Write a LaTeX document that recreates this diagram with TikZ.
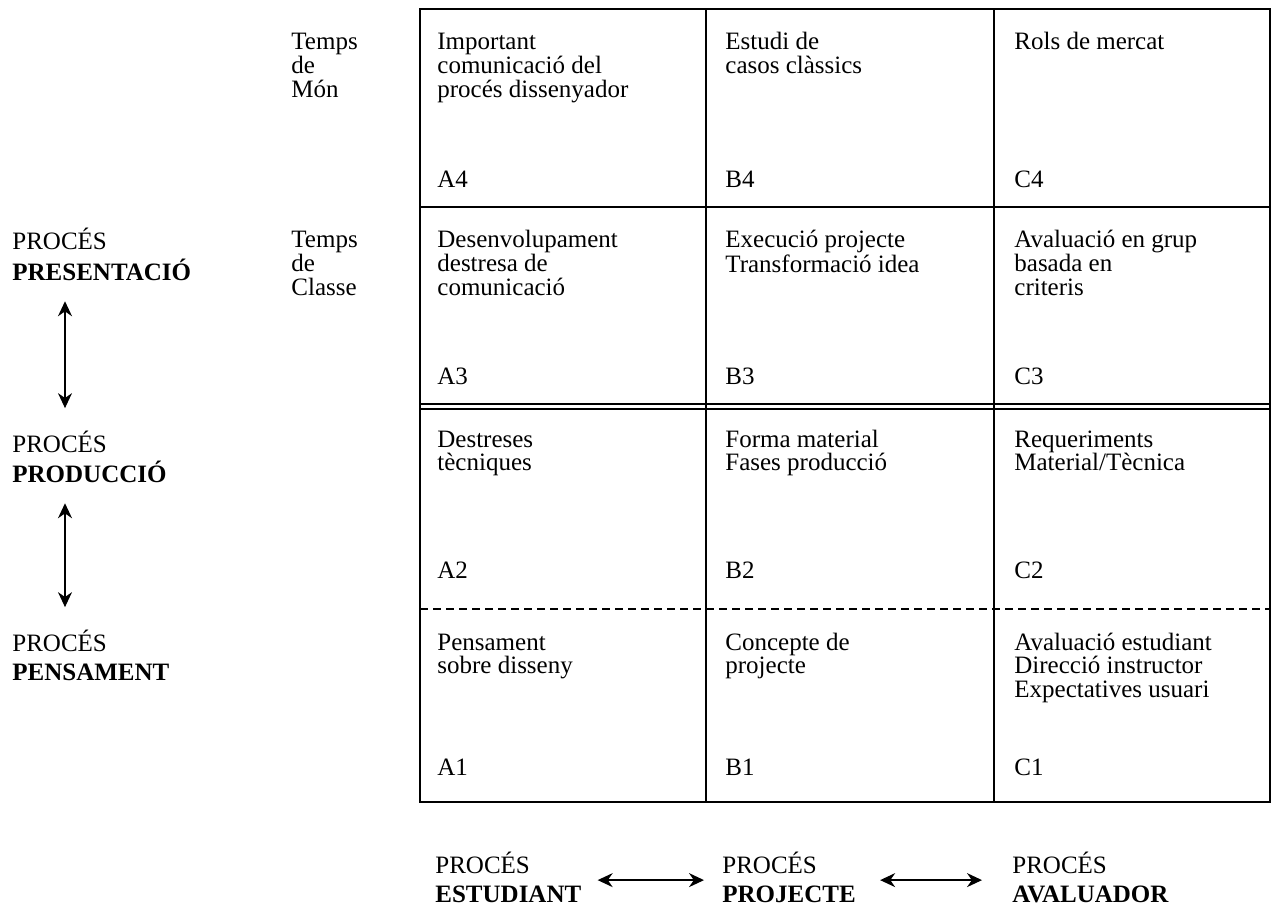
\documentclass[tikz,border=0pt]{standalone}
\usepackage{fontspec}
\setmainfont{Liberation Serif}
\usetikzlibrary{arrows.meta}

% linies d'un text, amb la base a la primera linia
\newcommand{\linies}[1]{\begin{tabular}[t]{@{}l@{}}#1\end{tabular}}

\begin{document}
\begin{tikzpicture}[x=0.5pt, y=-0.5pt,
    cella/.style={anchor=base west, inner sep=0pt, font=\fontsize{12.5}{11}\selectfont},
    proces/.style={anchor=base west, inner sep=0pt, font=\fontsize{12.5}{14.5}\selectfont},
    fletxa/.style={{Stealth[length=7.5pt,width=7pt]}-{Stealth[length=7.5pt,width=7pt]}, line width=0.7pt},
    vora/.style={line width=0.9pt}]
    \useasboundingbox (0,0) rectangle (1272,908);

    % 1. Reticle de la matriu
    \draw[vora] (420,9) rectangle (1270,802);
    \draw[vora] (706,9) -- (706,802);
    \draw[vora] (994,9) -- (994,802);
    \draw[vora] (420,207) -- (1270,207);
    % doble linia entre classe i produccio
    \draw[vora] (420,404) -- (1270,404);
    \draw[vora] (420,409) -- (1270,409);
    % linia discontinua
    \draw[line width=0.8pt, dash pattern=on 4pt off 2.5pt] (420,609) -- (1270,609);

    % 2. Temps
    \node[cella] (tmon) at (291,50) {\linies{Temps\\de\\Món}};
    \node[cella] (tclasse) at (291,248) {\linies{Temps\\de\\Classe}};

    % 3. Fila 4
    \node[cella] (a4) at (437,50) {\linies{Important\\comunicació del\\procés dissenyador}};
    \node[cella] (b4) at (725,50) {\linies{Estudi de\\casos clàssics}};
    \node[cella] (c4) at (1014,50) {Rols de mercat};
    \node[cella] (la4) at (437,188) {A4};
    \node[cella] (lb4) at (725,188) {B4};
    \node[cella] (lc4) at (1014,188) {C4};

    % 4. Fila 3
    \node[cella] (a3) at (437,248) {\linies{Desenvolupament\\destresa de\\comunicació}};
    \node[cella] (b3) at (725,248) {\linies{Execució projecte\\Transformació idea}};
    \node[cella] (c3) at (1014,248) {\linies{Avaluació en grup\\basada en\\criteris}};
    \node[cella] (la3) at (437,385) {A3};
    \node[cella] (lb3) at (725,385) {B3};
    \node[cella] (lc3) at (1014,385) {C3};

    % 5. Fila 2
    \node[cella] (a2) at (437,447) {\linies{Destreses\\tècniques}};
    \node[cella] (b2) at (725,447) {\linies{Forma material\\Fases producció}};
    \node[cella] (c2) at (1014,447) {\linies{Requeriments\\Material/Tècnica}};
    \node[cella] (la2) at (437,578) {A2};
    \node[cella] (lb2) at (725,578) {B2};
    \node[cella] (lc2) at (1014,578) {C2};

    % 6. Fila 1
    \node[cella] (a1) at (437,650) {\linies{Pensament\\sobre disseny}};
    \node[cella] (b1) at (725,650) {\linies{Concepte de\\projecte}};
    \node[cella] (c1) at (1014,650) {\linies{Avaluació estudiant\\Direcció instructor\\Expectatives usuari}};
    \node[cella] (la1) at (437,775) {A1};
    \node[cella] (lb1) at (725,775) {B1};
    \node[cella] (lc1) at (1014,775) {C1};

    % 7. Processos a l'esquerra
    \node[proces] (pres) at (12,250) {\linies{PROCÉS\\\textbf{PRESENTACIÓ}}};
    \node[proces] (prod) at (12,452) {\linies{PROCÉS\\\textbf{PRODUCCIÓ}}};
    \node[proces] (pens) at (12,651) {\linies{PROCÉS\\\textbf{PENSAMENT}}};
    \coordinate (eix) at (65,0);
    \draw[fletxa] ([yshift=-6pt]pres.south -| eix) -- ([yshift=11pt]prod.north -| eix);
    \draw[fletxa] ([yshift=-6pt]prod.south -| eix) -- ([yshift=11pt]pens.north -| eix);

    % 8. Processos a sota
    \node[proces] (estud) at (435,873) {\linies{PROCÉS\\\textbf{ESTUDIANT}}};
    \node[proces] (proj) at (722,873) {\linies{PROCÉS\\\textbf{PROJECTE}}};
    \node[proces] (aval) at (1012,873) {\linies{PROCÉS\\\textbf{AVALUADOR}}};
    \draw[fletxa] ([xshift=8pt,yshift=0.5pt]estud.east) -- ([xshift=-9pt,yshift=0.5pt]proj.west);
    \draw[fletxa] ([xshift=12pt,yshift=0.5pt]proj.east) -- ([xshift=-15pt,yshift=0.5pt]aval.west);

\end{tikzpicture}
\end{document}
